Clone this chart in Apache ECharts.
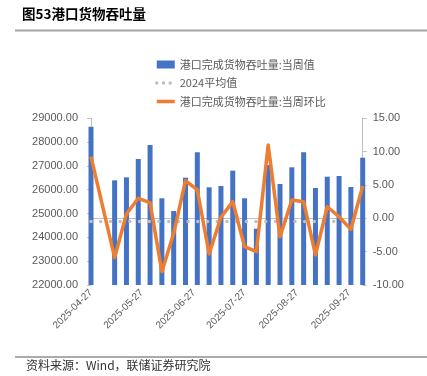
<!DOCTYPE html>
<html>
<head>
<meta charset="utf-8">
<script src="https://cdn.jsdelivr.net/npm/echarts@6/dist/echarts.min.js"></script>
<style>
html,body{margin:0;padding:0;background:#fff;}
#main{width:427px;height:376px;}
</style>
</head>
<body>
<div id="main"></div>
<script>
// ---- data ----
var dates = ['2025-04-27','2025-05-11','2025-05-18','2025-05-25','2025-06-01','2025-06-08','2025-06-15','2025-06-22','2025-06-29','2025-07-06','2025-07-13','2025-07-20','2025-07-27','2025-08-03','2025-08-10','2025-08-17','2025-08-24','2025-08-31','2025-09-07','2025-09-14','2025-09-21','2025-09-28','2025-10-05'];
var weekly = [28647,26396,26521,27290,27880,25641,25108,26506,27572,26102,26157,26801,25641,24364,27039,26241,26942,27572,26073,26547,26577,26115,27346];
var wow = [9.24,-5.9,0.65,3.0,2.34,-8.0,-2.25,5.64,4.25,-5.35,0.15,2.5,-4.26,-5.0,11.0,-2.76,2.75,2.5,-5.5,1.74,0.24,-1.65,4.85];
var avg2024 = 24670;
var labelDates = ['2025-04-27','2025-05-27','2025-06-27','2025-07-27','2025-08-27','2025-09-27'];
var leftTicks = [22000, 29000, 1000];
var rightTicks = [-10, 15, 5];
var names = ['港口完成货物吞吐量:当周值','2024平均值','港口完成货物吞吐量:当周环比'];

function ts(s){var p=s.split('-');return Date.UTC(+p[0],+p[1]-1,+p[2]);}
function fmt(v){var d=new Date(v);function z(n){return (n<10?'0':'')+n;}return d.getUTCFullYear()+'-'+z(d.getUTCMonth()+1)+'-'+z(d.getUTCDate());}

var barData = dates.map(function(d,i){return [ts(d), weekly[i]];});
var lineData = dates.map(function(d,i){return [ts(d), wow[i]];});
var avgData = dates.map(function(d){return [ts(d), avg2024];});

var chart = echarts.init(document.getElementById('main'));
var axisColor = '#BFBFBF';
var labelColor = '#595959';
chart.setOption({
  animation:false,
  textStyle:{fontFamily:'"Liberation Sans", Arial, "Noto Sans CJK SC", sans-serif'},
  graphic:[
    {type:'text', left:22, top:7, style:{text:'图53港口货物吞吐量', font:'bold 13.5px "Noto Sans CJK SC", sans-serif', fill:'#000'}},
    {type:'rect', shape:{x:15,y:29.5,width:412,height:2}, style:{fill:'#A6A6A6'}},
    {type:'rect', shape:{x:15,y:356.5,width:412,height:1}, style:{fill:'#595959'}},
    {type:'text', left:26, top:359, style:{text:'资料来源：Wind，联储证券研究院', font:'12px "Noto Sans CJK SC", sans-serif', fill:'#333'}}
  ],
  legend:{
    orient:'vertical', left:150, top:54, itemWidth:18, itemHeight:8, itemGap:7.5,
    textStyle:{fontSize:11, color:labelColor, fontFamily:'"Noto Sans CJK SC", sans-serif'},
    data:[
      {name:names[0], icon:'rect'},
      {name:names[1], itemStyle:{opacity:0}, lineStyle:{color:'#BFBFBF', width:3.5, type:[0.01,6.7], cap:'round'}},
      {name:names[2], itemStyle:{opacity:0}, lineStyle:{color:'#ED7D31', width:3.5}}
    ]
  },
  grid:{left:91, right:64.3, top:118.3, bottom:91, containLabel:false},
  xAxis:{
    type:'value', min:ts(dates[0]), max:ts(dates[dates.length-1]),
    splitLine:{show:false},
    axisLine:{show:true, lineStyle:{color:axisColor}},
    axisTick:{show:false},
    axisLabel:{customValues:labelDates.map(ts), formatter:function(v){return fmt(v);}, rotate:45, fontSize:10, color:labelColor, margin:6, hideOverlap:false}
  },
  yAxis:[
    {type:'value', min:leftTicks[0], max:leftTicks[1], interval:leftTicks[2], position:'left',
     splitLine:{show:false}, axisLine:{show:true, lineStyle:{color:axisColor}},
     axisTick:{show:true, inside:false, length:4, lineStyle:{color:axisColor}},
     axisLabel:{formatter:function(v){return v.toFixed(2);}, fontSize:11, color:labelColor, margin:13}},
    {type:'value', min:rightTicks[0], max:rightTicks[1], interval:rightTicks[2], position:'right',
     splitLine:{show:false}, axisLine:{show:true, lineStyle:{color:axisColor}},
     axisTick:{show:true, inside:false, length:4, lineStyle:{color:axisColor}},
     axisLabel:{formatter:function(v){return v.toFixed(2);}, fontSize:11, color:labelColor, margin:10}}
  ],
  series:[
    {name:names[0], type:'bar', data:barData, yAxisIndex:0, barWidth:5, itemStyle:{color:'#4472C4'}, z:2},
    {name:names[1], type:'line', data:avgData, yAxisIndex:0, symbol:'none', itemStyle:{color:'#BFBFBF'},
     lineStyle:{color:'#BFBFBF', width:3.5, type:[0.01,9.7], cap:'round'}, z:3},
    {name:names[2], type:'line', data:lineData, yAxisIndex:1, symbol:'none', itemStyle:{color:'#ED7D31'},
     lineStyle:{color:'#ED7D31', width:3.5, join:'round'}, z:4}
  ]
});
</script>
</body>
</html>
